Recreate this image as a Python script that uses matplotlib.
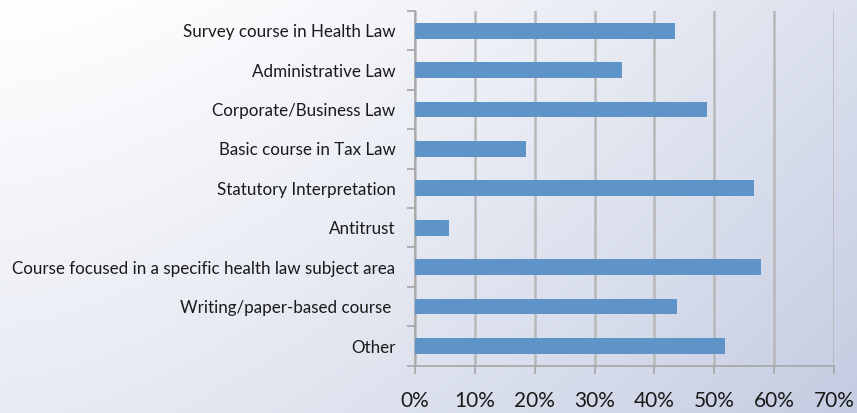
import numpy as np
import matplotlib.pyplot as plt
from matplotlib.ticker import PercentFormatter

# dados
categorias = [
    "Survey course in Health Law",
    "Administrative Law",
    "Corporate/Business Law",
    "Basic course in Tax Law",
    "Statutory Interpretation",
    "Antitrust",
    "Course focused in a specific health law subject area",
    "Writing/paper-based course ",
    "Other",
]
valores = [43.5, 34.6, 48.7, 18.6, 56.7, 5.7, 57.8, 43.8, 51.8]
ticks_x = [0, 10, 20, 30, 40, 50, 60, 70]

plt.rcParams['font.family'] = ['Lato', 'DejaVu Sans']

fig = plt.figure(figsize=(8.57, 4.13), dpi=100)

# fundo em degradê (branco -> azul claro, diagonal)
bg = fig.add_axes([0, 0, 1, 1], zorder=-10)
gx, gy = np.meshgrid(np.linspace(0, 1, 300), np.linspace(0, 1, 150))
t = np.clip(0.6 * gx ** 1.5 + 0.4 * (1 - gy), 0, 1)
branco = np.array([1.0, 1.0, 1.0])
azul = np.array([0.77, 0.80, 0.885])
img = branco + (azul - branco) * t[..., None]
bg.imshow(img, aspect='auto', extent=[0, 1, 0, 1], origin='lower')
bg.axis('off')

ax = fig.add_axes([0.4843, 0.1145, 0.4889, 0.859])
ax.patch.set_alpha(0)

y = np.arange(len(categorias))
ax.barh(y, valores, height=0.4, color='#5f94c8', zorder=3)
ax.set_ylim(len(categorias) - 0.5, -0.5)
ax.set_xlim(0, 70)
ax.set_xticks(ticks_x)
ax.xaxis.set_major_formatter(PercentFormatter(decimals=0))
ax.set_yticks(y)
ax.set_yticklabels(categorias, fontsize=12.25, color='#1a1a1a')
ax.set_yticks(np.arange(len(categorias) + 1) - 0.5, minor=True)
ax.tick_params(axis='y', which='major', length=0, pad=14)
ax.tick_params(axis='y', which='minor', length=6, color='#a6a6a6', width=1.2)
ax.tick_params(axis='x', length=6, color='#a6a6a6', width=1.2, labelsize=15,
               labelcolor='#1a1a1a', pad=12)

ax.grid(axis='x', color='#b8b8b8', linewidth=1.8, zorder=0)
for lado in ['top', 'right']:
    ax.spines[lado].set_visible(False)
for lado in ['left', 'bottom']:
    ax.spines[lado].set_color('#a6a6a6')
    ax.spines[lado].set_linewidth(1.2)

plt.savefig('out.png', dpi=100)
